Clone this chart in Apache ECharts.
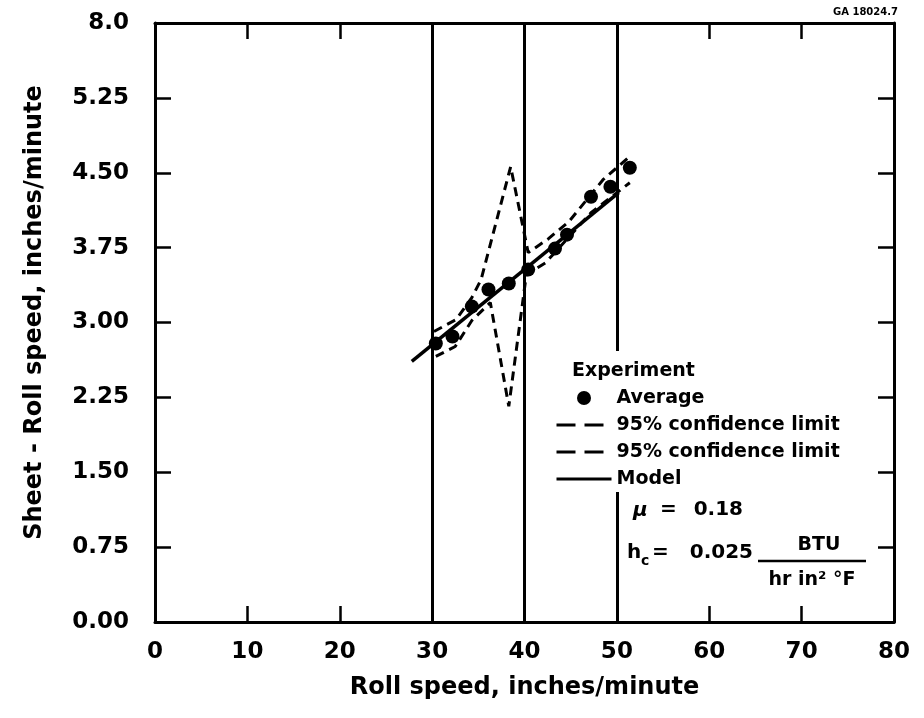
<!DOCTYPE html>
<html>
<head>
<meta charset="utf-8">
<title>Roll speed</title>
<script src="https://cdn.jsdelivr.net/npm/echarts@6/dist/echarts.min.js"></script>
<style>
html, body { margin: 0; padding: 0; background: #fff; }
#main { width: 924px; height: 718px; }
</style>
</head>
<body>
<div id="main"></div>
<script>
// values
var avgX = [30.4, 32.2, 34.3, 36.1, 38.3, 40.4, 43.3, 44.6, 47.2, 49.3, 51.4];
var avgY = [2.79, 2.86, 3.16, 3.33, 3.39, 3.53, 3.74, 3.88, 4.26, 4.36, 4.55];
var upperX = [30.2, 32.6, 34.3, 35.3, 38.5, 40.4, 42.6, 44.8, 48.5, 51.6];
var upperY = [2.91, 3.03, 3.25, 3.43, 4.56, 3.70, 3.84, 4.01, 4.43, 4.68];
var lowerX = [30.4, 32.5, 34.3, 36.3, 38.3, 40.2, 42.3, 47.2, 51.4];
var lowerY = [2.66, 2.76, 3.02, 3.20, 2.16, 3.48, 3.60, 4.10, 4.40];
var modelX = [27.8, 50.2];
var modelY = [2.61, 4.30];
var guideX = [30, 40, 50];
var yTickLabels = ['0.00', '0.75', '1.50', '2.25', '3.00', '3.75', '4.50', '5.25', '8.0'];
var legendLabels = {
    'Average': 'Average',
    'upper': '95% confidence limit',
    'lower': '95% confidence limit',
    'model': 'Model'
};

function pairs(xs, ys) {
    return xs.map(function (x, i) { return [x, ys[i]]; });
}

var FONT = 'DejaVu Sans';
var chart = echarts.init(document.getElementById('main'));

var tickStyle = { show: true, inside: true, length: 16, lineStyle: { color: '#000', width: 2.5 } };
var lineStyle = { show: true, onZero: false, lineStyle: { color: '#000', width: 3 } };

function txt(x, y, s, size, extra) {
    var style = { text: s, font: 'bold ' + size + 'px ' + FONT, fill: '#000', verticalAlign: 'middle' };
    for (var k in extra) style[k] = extra[k];
    return { type: 'text', z: 20, x: x, y: y, style: style };
}

var option = {
    backgroundColor: '#fff',
    animation: false,
    grid: { left: 155, right: 30, top: 23, bottom: 96 },
    xAxis: [{
        type: 'value', position: 'bottom', min: 0, max: 80, interval: 10,
        name: 'Roll speed, inches/minute', nameLocation: 'middle', nameGap: 54,
        nameTextStyle: { fontFamily: FONT, fontWeight: 'bold', fontSize: 24, color: '#000' },
        axisLine: lineStyle, axisTick: tickStyle, splitLine: { show: false },
        axisLabel: { margin: 19, fontFamily: FONT, fontWeight: 'bold', fontSize: 23, color: '#000' }
    }, {
        type: 'value', position: 'top', min: 0, max: 80, interval: 10,
        axisLine: lineStyle, axisTick: tickStyle, splitLine: { show: false },
        axisLabel: { show: false }
    }],
    yAxis: [{
        type: 'value', position: 'left', min: 0, max: 6, interval: 0.75,
        name: 'Sheet - Roll speed, inches/minute', nameLocation: 'middle', nameGap: 108,
        nameTextStyle: { fontFamily: FONT, fontWeight: 'bold', fontSize: 24, color: '#000', padding: [0, 0, 0, 20] },
        axisLine: lineStyle, axisTick: tickStyle, splitLine: { show: false },
        axisLabel: {
            margin: 26, fontFamily: FONT, fontWeight: 'bold', fontSize: 23, color: '#000',
            formatter: function (v) { return yTickLabels[Math.round(v / 0.75)]; }
        }
    }, {
        type: 'value', position: 'right', min: 0, max: 6, interval: 0.75,
        axisLine: lineStyle, axisTick: tickStyle, splitLine: { show: false },
        axisLabel: { show: false }
    }],
    legend: {
        orient: 'vertical', left: 550, top: 383, z: 20,
        itemWidth: 55, itemHeight: 14, itemGap: 7,
        selectedMode: false,
        textStyle: { fontFamily: FONT, fontWeight: 'bold', fontSize: 19, color: '#000', lineHeight: 20 },
        formatter: function (n) { return legendLabels[n]; },
        data: [
            { name: 'Average', itemStyle: { color: '#000', opacity: 1 } },
            { name: 'upper', itemStyle: { opacity: 0 }, lineStyle: { type: [19, 9], width: 3, color: '#000' } },
            { name: 'lower', itemStyle: { opacity: 0 }, lineStyle: { type: [19, 9], width: 3, color: '#000' } },
            { name: 'model', itemStyle: { opacity: 0 }, lineStyle: { width: 3, color: '#000' } }
        ]
    },
    graphic: [
        { type: 'rect', z: 10, shape: { x: 553, y: 351, width: 318, height: 141 }, style: { fill: '#fff' } },
        txt(572, 371, 'Experiment', 19),
        {
            type: 'text', z: 20, x: 633, y: 511,
            style: { text: 'μ', font: 'italic bold 20px ' + FONT, fill: '#000', verticalAlign: 'middle' }
        },
        txt(660, 510, '=', 20),
        txt(743, 510, '0.18', 20, { align: 'right' }),
        txt(627, 553, 'h', 20),
        txt(641, 561, 'c', 14),
        txt(652, 553, '=', 20),
        txt(753, 553, '0.025', 20, { align: 'right' }),
        txt(819, 545, 'BTU', 19, { align: 'center' }),
        { type: 'line', z: 20, shape: { x1: 758, y1: 561, x2: 866, y2: 561 }, style: { stroke: '#000', lineWidth: 2.5 } },
        txt(812, 580, 'hr in² °F', 19, { align: 'center' }),
        txt(898, 12, 'GA 18024.7', 10, { align: 'right' })
    ],
    series: [{
        name: 'Average', type: 'scatter', data: pairs(avgX, avgY),
        symbol: 'circle', symbolSize: 14, itemStyle: { color: '#000', opacity: 1 }, z: 5
    }, {
        name: 'upper', type: 'line', data: pairs(upperX, upperY), symbol: 'none',
        lineStyle: { color: '#000', width: 3, type: [9, 6] }, itemStyle: { color: '#000' }
    }, {
        name: 'lower', type: 'line', data: pairs(lowerX, lowerY), symbol: 'none',
        lineStyle: { color: '#000', width: 3, type: [9, 6] }, itemStyle: { color: '#000' }
    }, {
        name: 'model', type: 'line', data: pairs(modelX, modelY), symbol: 'none',
        lineStyle: { color: '#000', width: 3.5 }, itemStyle: { color: '#000' },
        markLine: {
            silent: true, symbol: ['none', 'none'], label: { show: false },
            lineStyle: { color: '#000', width: 3, type: 'solid' },
            data: guideX.map(function (v) { return { xAxis: v }; })
        }
    }]
};

chart.setOption(option);
</script>
</body>
</html>
